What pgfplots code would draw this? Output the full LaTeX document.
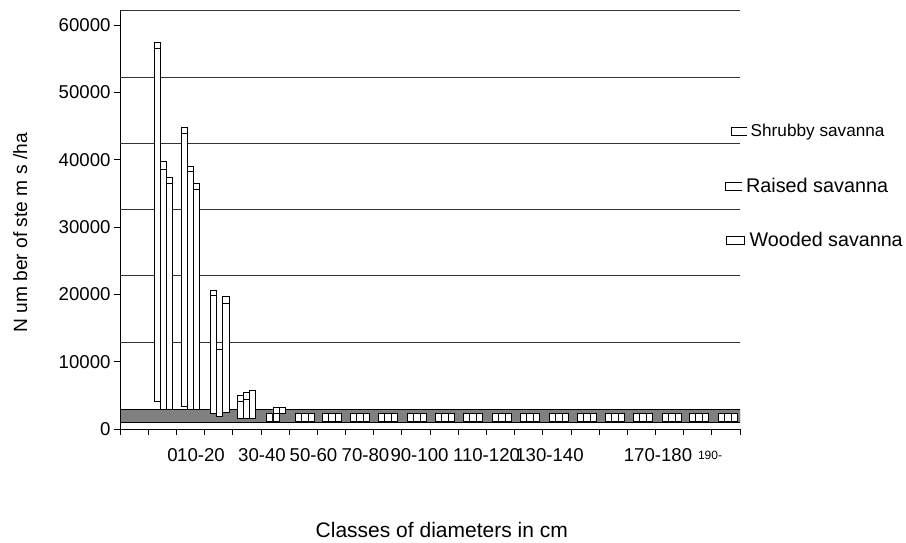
\documentclass[border=0pt]{standalone}
\usepackage{fontspec}
\setmainfont{Liberation Sans}
\usepackage{pgfplots}
\pgfplotsset{compat=1.18}
\usepackage{pgfplotstable}

% x = bar centre (class units), base = bottom of bar, low = line under the top face, top = top of bar
\pgfplotstableread{
x base low top
1.320 4113 56534 57366
2.278 3312 43911 44802
3.318 2376 19899 20642
4.276 1589 4158 5049
5.307 1084 2331 2331
6.335 1084 2331 2331
7.293 1084 2331 2331
8.287 1084 2331 2331
9.280 1084 2331 2331
10.309 1084 2331 2331
11.302 1084 2331 2331
12.296 1084 2331 2331
13.325 1084 2331 2331
14.319 1084 2331 2331
15.348 1084 2331 2331
16.341 1084 2331 2331
17.335 1084 2331 2331
18.329 1084 2331 2331
19.358 1084 2331 2331
20.316 1084 2331 2331
21.345 1084 2331 2331
}\shrubby

\pgfplotstableread{
x base low top
1.540 2925 38610 39694
2.491 2925 38209 39011
3.538 1827 11880 11880
4.482 1589 4410 5391
5.541 1084 2331 3222
6.565 1084 2331 2331
7.523 1084 2331 2331
8.517 1084 2331 2331
9.510 1084 2331 2331
10.539 1084 2331 2331
11.532 1084 2331 2331
12.526 1084 2331 2331
13.555 1084 2331 2331
14.549 1084 2331 2331
15.578 1084 2331 2331
16.571 1084 2331 2331
17.565 1084 2331 2331
18.559 1084 2331 2331
19.588 1084 2331 2331
20.546 1084 2331 2331
21.575 1084 2331 2331
}\raised

\pgfplotstableread{
x base low top
1.760 2925 36486 37318
2.711 2925 35595 36486
3.762 2420 18666 19647
4.707 1589 5747 5747
5.757 2317 3222 3222
6.795 1084 2331 2331
7.753 1084 2331 2331
8.747 1084 2331 2331
9.740 1084 2331 2331
10.769 1084 2331 2331
11.762 1084 2331 2331
12.756 1084 2331 2331
13.785 1084 2331 2331
14.779 1084 2331 2331
15.808 1084 2331 2331
16.801 1084 2331 2331
17.795 1084 2331 2331
18.789 1084 2331 2331
19.818 1084 2331 2331
20.776 1084 2331 2331
21.805 1084 2331 2331
}\wooded

\pgfplotsset{
  common/.style={scale only axis, width=620pt, height=419pt,
    xmin=0, xmax=22, ymin=0, ymax=62220, at={(0,0)}, anchor=south west},
  baraxis/.style={common, hide axis, ybar stacked, bar width=0.225},
  openicon/.style={legend image code/.code={
    \draw[black, fill=none, line width=0.8pt] (16pt,4pt) -- (0pt,4pt) -- (0pt,-4pt) -- (16pt,-4pt);}},
  boxicon/.style={legend image code/.code={
    \draw[black, fill=none, line width=0.8pt] (0pt,-4pt) rectangle (18pt,4pt);}},
}

\begin{document}
\begin{tikzpicture}
\path[use as bounding box] (-120pt,-113pt) rectangle (786pt,429pt);

% main axis: frame, ticks, back-wall grid, floor
\begin{axis}[common,
  axis x line=bottom, axis y line=left,
  axis line style={-, line width=0.8pt, black},
  tick align=outside,
  tick style={black, line width=0.8pt},
  major tick length=6pt,
  xtick={0,...,22}, xticklabels={},
  ytick={0,10000,...,60000},
  scaled y ticks=false,
  yticklabel style={font=\fontsize{18.6}{20}\selectfont,
    /pgf/number format/assume math mode=true, /pgf/number format/1000 sep={}},
  extra x ticks={1.863,2.875,5.039,6.867,8.712,10.628,13.006,15.241,19.091,20.937},
  extra x tick labels={0,10-20,30-40,50-60,70-80,90-100,110-120,130-140,\raisebox{-6pt}{170-180},{\fontsize{12}{13}\selectfont 190-}},
  extra x tick style={major tick length=0pt,
    xticklabel style={anchor=center, yshift=-26pt, font=\fontsize{18.6}{20}\selectfont}},
  extra y ticks={12920,22869,32670,42471,52272,62220},
  extra y tick labels={},
  extra y tick style={grid=major, major tick length=0pt,
    major grid style={black!80, line width=0.8pt}},
  xlabel={Classes of diameters in cm},
  xlabel style={at={(axis description cs:0.519,-0.241)}, anchor=center,
    font=\fontsize{21}{23}\selectfont},
  ylabel={N um ber of ste m s /ha},
  ylabel style={at={(axis description cs:-0.161,0.468)}, anchor=center,
    font=\fontsize{19.2}{21}\selectfont},
]
\addplot[fill=black!50, draw=black, line width=0.8pt] coordinates
  {(0,935) (22,935) (22,2925) (0,2925)} -- cycle;
\end{axis}

% Shrubby savanna
\begin{axis}[baraxis,
  every axis plot post/.append style={openicon},
  legend style={at={(axis description cs:0.985,0.711)}, anchor=west,
    draw=none, fill=none, inner sep=0pt, column sep=3pt,
    nodes={inner sep=0pt, font=\fontsize{17.2}{19}\selectfont}}]
\addplot[draw=none, fill=none, forget plot] table[x=x, y=base]{\shrubby};
\addplot[draw=black, fill=white, line width=0.8pt] table[x=x, y expr=\thisrow{low}-\thisrow{base}]{\shrubby};
\addlegendentry{Shrubby savanna}
\addplot[draw=black, fill=white, line width=0.8pt, forget plot] table[x=x, y expr=\thisrow{top}-\thisrow{low}]{\shrubby};
\end{axis}

% Raised savanna
\begin{axis}[baraxis,
  every axis plot post/.append style={openicon},
  legend style={at={(axis description cs:0.976,0.580)}, anchor=west,
    draw=none, fill=none, inner sep=0pt, column sep=4pt,
    nodes={inner sep=0pt, font=\fontsize{19.8}{21}\selectfont}}]
\addplot[draw=none, fill=none, forget plot] table[x=x, y=base]{\raised};
\addplot[draw=black, fill=white, line width=0.8pt] table[x=x, y expr=\thisrow{low}-\thisrow{base}]{\raised};
\addlegendentry{Raised savanna}
\addplot[draw=black, fill=white, line width=0.8pt, forget plot] table[x=x, y expr=\thisrow{top}-\thisrow{low}]{\raised};
\end{axis}

% Wooded savanna
\begin{axis}[baraxis,
  every axis plot post/.append style={boxicon},
  legend style={at={(axis description cs:0.977,0.451)}, anchor=west,
    draw=none, fill=none, inner sep=0pt, column sep=5pt,
    nodes={inner sep=0pt, font=\fontsize{19.7}{21}\selectfont}}]
\addplot[draw=none, fill=none, forget plot] table[x=x, y=base]{\wooded};
\addplot[draw=black, fill=white, line width=0.8pt] table[x=x, y expr=\thisrow{low}-\thisrow{base}]{\wooded};
\addlegendentry{Wooded savanna}
\addplot[draw=black, fill=white, line width=0.8pt, forget plot] table[x=x, y expr=\thisrow{top}-\thisrow{low}]{\wooded};
\end{axis}
\end{tikzpicture}
\end{document}
